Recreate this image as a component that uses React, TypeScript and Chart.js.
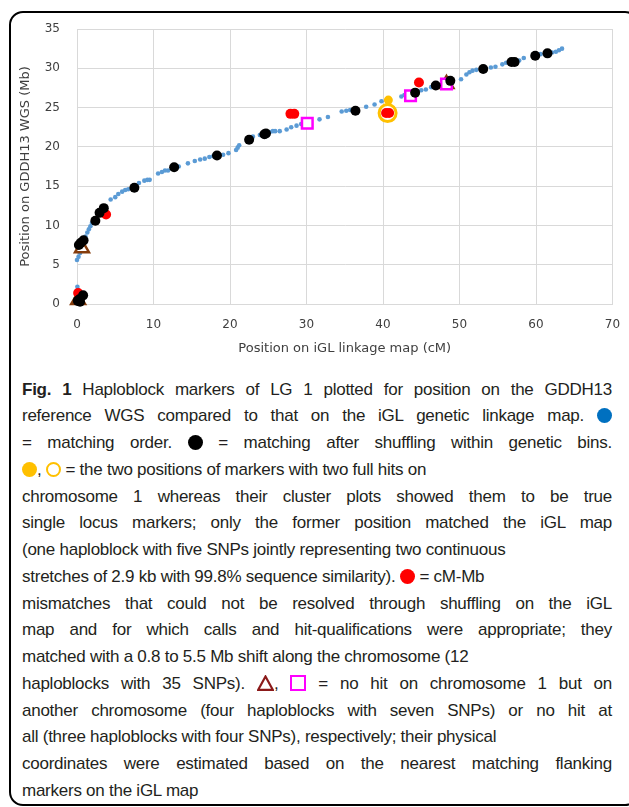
import React, { useEffect, useRef } from "react";
import { Chart, registerables } from "chart.js";

Chart.register(...registerables);

// ---- Data (x = position on iGL linkage map, cM; y = position on GDDH13 WGS, Mb) ----
const xTickValues = [0, 10, 20, 30, 40, 50, 60, 70];
const yTickValues = [0, 5, 10, 15, 20, 25, 30, 35];

const matchingOrder: [number, number][] = [
  [0.05, 2.2], [0.1, 1.8],
  [0.0, 5.6], [0.2, 6.0], [0.4, 6.5], [0.6, 7.0],
  [1.1, 8.6], [1.35, 9.1], [1.55, 9.5], [1.75, 9.9], [1.95, 10.3],
  [4.4, 13.3], [5.0, 13.6], [5.4, 14.0], [5.9, 14.3], [6.3, 14.5], [6.7, 14.6],
  [8.1, 15.4], [8.8, 15.7], [9.2, 15.8], [9.5, 15.8],
  [10.6, 16.6], [11.1, 16.8], [11.5, 17.0], [11.9, 17.0],
  [13.3, 17.5], [14.5, 17.9], [15.4, 18.2], [16.1, 18.4], [16.7, 18.5], [17.3, 18.7], [17.8, 18.8],
  [19.1, 19.0], [19.8, 19.2], [20.8, 19.6], [21.0, 19.9], [21.2, 20.2],
  [23.0, 21.3], [23.9, 21.5], [24.3, 21.5], [25.2, 21.9], [25.6, 22.0], [25.9, 22.0], [26.5, 22.0],
  [27.4, 22.2], [28.0, 22.5], [28.7, 22.7], [29.3, 22.9],
  [31.7, 23.5], [32.8, 23.8],
  [34.6, 24.5], [35.2, 24.6], [35.7, 24.7], [37.8, 25.1], [38.9, 25.4], [39.8, 25.8],
  [42.4, 26.4], [42.8, 26.6], [45.0, 27.2], [45.6, 27.3], [46.3, 27.6], [47.6, 27.9],
  [50.2, 28.6], [50.9, 29.2], [51.3, 29.5], [51.7, 29.7], [52.2, 29.8],
  [54.1, 30.1], [54.7, 30.2], [55.6, 30.5], [56.1, 30.7], [57.8, 31.0], [58.4, 31.3],
  [60.6, 31.8], [62.1, 32.0], [62.6, 32.1], [63.0, 32.3], [63.4, 32.5],
];

const matchingAfterShuffling: [number, number][] = [
  [0.1, 0.4], [0.4, 0.3], [0.3, 0.6], [0.8, 1.1],
  [0.25, 7.5], [0.5, 7.8], [0.86, 8.1],
  [2.4, 10.6], [2.95, 11.6], [3.5, 12.2],
  [7.5, 14.8], [12.7, 17.4], [18.3, 18.9], [22.5, 20.9], [24.5, 21.6], [24.7, 21.7],
  [36.4, 24.6], [44.2, 26.9], [46.9, 27.8], [48.8, 28.4], [53.1, 29.9],
  [56.8, 30.8], [57.2, 30.8], [59.9, 31.6], [61.5, 31.9],
];

const mismatches: [number, number][] = [
  [0.15, 1.4], [3.8, 11.4], [27.9, 24.2], [28.4, 24.2], [40.4, 24.3], [40.8, 24.3], [44.7, 28.2],
];

const twoHitsMatched: [number, number][] = [[40.7, 25.95]];
const twoHitsOther: [number, number][] = [[40.6, 24.3]];

const otherChromosome: [number, number][] = [[0.15, 0.5], [0.65, 7.1], [48.3, 28.0]];
const noHit: [number, number][] = [[30.1, 23.0], [43.6, 26.5], [48.3, 28.0]];

const xAxisTitle = "Position on iGL linkage map (cM)";
const yAxisTitle = "Position on GDDH13 WGS (Mb)";

const toPts = (a: [number, number][]) => a.map(([x, y]) => ({ x, y }));

const tickFont = { family: "'DejaVu Sans', sans-serif", size: 12 };
const titleFont = { family: "'DejaVu Sans', sans-serif", size: 13 };
const axisColor = "#404040";
const gridColor = "#d9d9d9";

function ScatterChart() {
  const ref = useRef<HTMLCanvasElement | null>(null);
  useEffect(() => {
    if (!ref.current) return;
    const chart = new Chart(ref.current, {
      type: "scatter",
      data: {
        datasets: [
          {
            label: "matching after shuffling",
            data: toPts(matchingAfterShuffling),
            pointStyle: "circle",
            pointRadius: 5,
            backgroundColor: "#000000",
            borderColor: "#000000",
            borderWidth: 0,
            order: 1,
            clip: false,
          },
          {
            label: "cM-Mb mismatches",
            data: toPts(mismatches),
            pointStyle: "circle",
            pointRadius: 5,
            backgroundColor: "#ff0000",
            borderColor: "#ff0000",
            borderWidth: 0,
            order: 2,
            clip: false,
          },
          {
            label: "two hits (matched)",
            data: toPts(twoHitsMatched),
            pointStyle: "circle",
            pointRadius: 4.5,
            backgroundColor: "#ffc000",
            borderColor: "#ffc000",
            borderWidth: 0,
            order: 3,
            clip: false,
          },
          {
            label: "two hits (other)",
            data: toPts(twoHitsOther),
            pointStyle: "circle",
            pointRadius: 8.5,
            backgroundColor: "#ffffff",
            borderColor: "#ffc000",
            borderWidth: 3,
            order: 4,
            clip: false,
          },
          {
            label: "no hit",
            data: toPts(noHit),
            pointStyle: "rect",
            pointRadius: 7.5,
            backgroundColor: "#ffffff",
            borderColor: "#ff00ff",
            borderWidth: 2.5,
            order: 5,
            clip: false,
          },
          {
            label: "other chromosome",
            data: toPts(otherChromosome),
            pointStyle: "triangle",
            pointRadius: 8,
            backgroundColor: "#ffffff",
            borderColor: "#843c0c",
            borderWidth: 2.5,
            order: 6,
            clip: false,
          },
          {
            label: "matching order",
            data: toPts(matchingOrder),
            pointStyle: "circle",
            pointRadius: 2.3,
            backgroundColor: "#5b9bd5",
            borderColor: "#5b9bd5",
            borderWidth: 0,
            order: 7,
            clip: false,
          },
        ],
      },
      options: {
        responsive: false,
        animation: false,
        devicePixelRatio: 1,
        layout: { padding: { left: 0, right: 8, top: 15, bottom: 0 } },
        plugins: { legend: { display: false }, tooltip: { enabled: false } },
        events: [],
        scales: {
          x: {
            type: "linear",
            min: 0,
            max: 70,
            afterBuildTicks: (s: any) => {
              s.ticks = xTickValues.map((v) => ({ value: v }));
            },
            afterFit: (s: any) => {
              s.height = 58;
              s.paddingLeft = 0;
              s.paddingRight = 0;
              s.paddingTop = 0;
              s.paddingBottom = 0;
            },
            ticks: { font: tickFont, color: axisColor, padding: 14 },
            grid: { color: gridColor, drawTicks: false, lineWidth: 1 },
            border: { color: gridColor, width: 1 },
            title: {
              display: true,
              text: xAxisTitle,
              font: titleFont,
              color: axisColor,
              padding: { top: 0, bottom: 6 },
            },
          },
          y: {
            type: "linear",
            min: 0,
            max: 35,
            afterBuildTicks: (s: any) => {
              s.ticks = yTickValues.map((v) => ({ value: v }));
            },
            afterFit: (s: any) => {
              s.width = 65;
              s.paddingLeft = 0;
              s.paddingRight = 0;
              s.paddingTop = 0;
              s.paddingBottom = 0;
            },
            ticks: { font: tickFont, color: axisColor, padding: 17 },
            grid: { color: gridColor, drawTicks: false, lineWidth: 1 },
            border: { color: gridColor, width: 1 },
            title: {
              display: true,
              text: yAxisTitle,
              font: titleFont,
              color: axisColor,
              padding: { top: 6, bottom: 0 },
            },
          },
        },
      },
    } as any);
    return () => chart.destroy();
  }, []);
  return <canvas ref={ref} width={612} height={348} style={{ display: "block" }} />;
}

const dot = (color: string, size = 15): React.CSSProperties => ({
  display: "inline-block",
  width: size,
  height: size,
  borderRadius: "50%",
  background: color,
  verticalAlign: "-2px",
});

const ring: React.CSSProperties = {
  display: "inline-block",
  width: 15,
  height: 15,
  borderRadius: "50%",
  border: "2px solid #ffc000",
  boxSizing: "border-box",
  verticalAlign: "-2px",
};

const square: React.CSSProperties = {
  display: "inline-block",
  width: 16,
  height: 16,
  border: "2.5px solid #ff00ff",
  boxSizing: "border-box",
  verticalAlign: "-2px",
};

const Tri = () => (
  <svg width={17} height={16} viewBox="0 0 17 16" style={{ verticalAlign: "-2px" }}>
    <polygon points="8.5,1.5 15.8,14.8 1.2,14.8" fill="#ffffff" stroke="#8b1a1a" strokeWidth={2.2} />
  </svg>
);

const captionLines: { content: React.ReactNode; full: boolean }[] = [
  { content: <><b>Fig. 1</b> Haploblock markers of LG 1 plotted for position on the GDDH13</>, full: true },
  { content: <>reference WGS compared to that on the iGL genetic linkage map. <span style={dot("#0070c0")} /></>, full: true },
  { content: <>= matching order. <span style={dot("#000000")} /> = matching after shuffling within genetic bins.</>, full: true },
  { content: <><span style={dot("#ffc000")} />, <span style={ring} /> = the two positions of markers with two full hits on</>, full: false },
  { content: <>chromosome 1 whereas their cluster plots showed them to be true</>, full: true },
  { content: <>single locus markers; only the former position matched the iGL map</>, full: true },
  { content: <>(one haploblock with five SNPs jointly representing two continuous</>, full: false },
  { content: <>stretches of 2.9 kb with 99.8% sequence similarity). <span style={dot("#ff0000")} /> = cM-Mb</>, full: false },
  { content: <>mismatches that could not be resolved through shuffling on the iGL</>, full: true },
  { content: <>map and for which calls and hit-qualifications were appropriate; they</>, full: true },
  { content: <>matched with a 0.8 to 5.5 Mb shift along the chromosome (12</>, full: false },
  { content: <>haploblocks with 35 SNPs). <Tri />, <span style={square} /> = no hit on chromosome 1 but on</>, full: true },
  { content: <>another chromosome (four haploblocks with seven SNPs) or no hit at</>, full: true },
  { content: <>all (three haploblocks with four SNPs), respectively; their physical</>, full: false },
  { content: <>coordinates were estimated based on the nearest matching flanking</>, full: true },
  { content: <>markers on the iGL map</>, full: false },
];

export default function App() {
  return (
    <div style={{ position: "absolute", left: 0, top: 0, width: 629, height: 807, overflow: "hidden", background: "#ffffff" }}>
      <div
        style={{
          position: "absolute",
          left: 9,
          top: 11,
          width: 630,
          height: 795,
          border: "2.5px solid #000000",
          borderRadius: 14,
          boxSizing: "border-box",
        }}
      />
      <div style={{ position: "absolute", left: 12, top: 14 }}>
        <ScatterChart />
      </div>
      <div
        style={{
          position: "absolute",
          left: 22,
          top: 376.6,
          width: 590,
          fontFamily: "'Liberation Sans', Arial, sans-serif",
          fontSize: 17,
          letterSpacing: "-0.25px",
          lineHeight: "26.75px",
          color: "#231f20",
        }}
      >
        {captionLines.map((l, i) => (
          <div
            key={i}
            style={{
              whiteSpace: "nowrap",
              textAlign: l.full ? "justify" : "left",
              textAlignLast: l.full ? "justify" : "left",
            }}
          >
            {l.content}
          </div>
        ))}
      </div>
    </div>
  );
}
